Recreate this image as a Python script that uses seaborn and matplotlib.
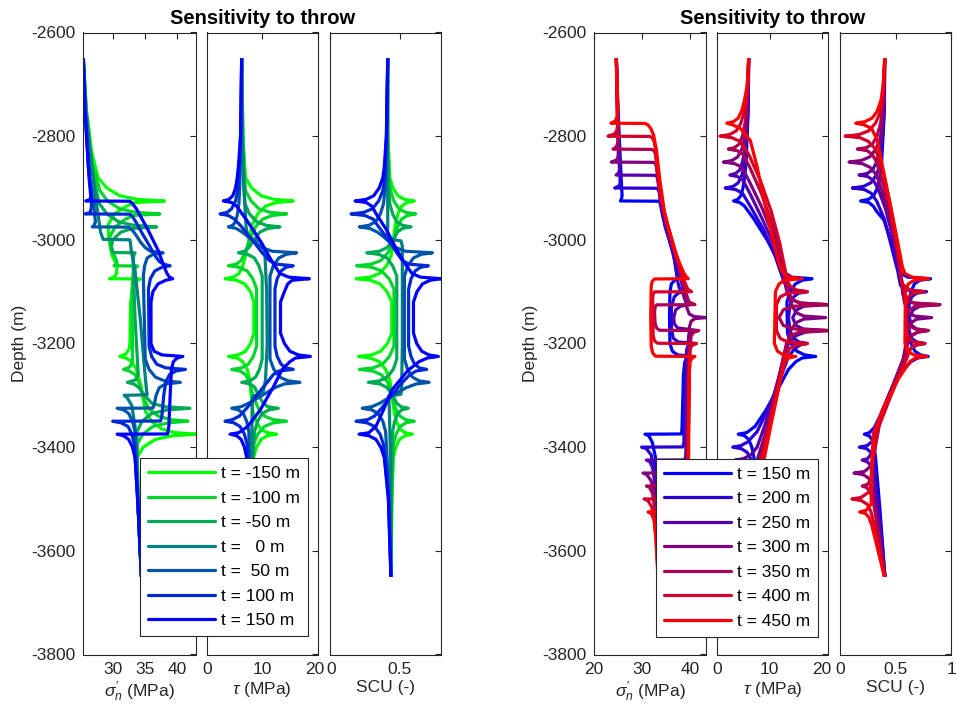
import numpy as np
import pandas as pd
import matplotlib
matplotlib.use("Agg")
import matplotlib.pyplot as plt
import matplotlib.transforms as mtransforms
import seaborn as sns
from matplotlib.lines import Line2D

# ---------------- data ----------------
THROWS_LEFT = [-150, -100, -50, 0, 50, 100, 150]
THROWS_RIGHT = [150, 200, 250, 300, 350, 400, 450]
LABELS_LEFT = ["t = -150 m", "t = -100 m", "t = -50 m", "t =   0 m",
               "t =  50 m", "t = 100 m", "t = 150 m"]
LABELS_RIGHT = ["t = 150 m", "t = 200 m", "t = 250 m", "t = 300 m",
                "t = 350 m", "t = 400 m", "t = 450 m"]
COLORS_LEFT = ["#00ff00", "#00d52a", "#00aa55", "#008080", "#0055aa", "#002ad5", "#0000ff"]
COLORS_RIGHT = ["#0000ff", "#2a00d5", "#5500aa", "#800080", "#aa0055", "#d5002a", "#ff0000"]

# (depth m, effective normal stress MPa) per throw, left figure
SN_LEFT = [
    [(-2650,25.3),(-2750,25.8),(-2830,26.6),(-2880,27.6),(-2900,29.0),(-2915,31.0),(-2922,33.8),(-2925,38.0),(-2928,33.4),(-2935,32.0),(-2950,30.2),(-2970,29.2),(-3000,29.3),(-3030,29.8),(-3050,30.6),(-3065,30.5),(-3072,30.1),(-3075,29.4),(-3075.5,34.2),(-3080,33.6),(-3090,33.1),(-3120,32.7),(-3200,32.6),(-3210,32.5),(-3220,32.0),(-3225,31.0),(-3228,32.0),(-3235,32.9),(-3250,33.6),(-3280,34.3),(-3330,35.0),(-3350,36.0),(-3365,37.6),(-3372,39.7),(-3375,42.9),(-3378,39.3),(-3385,36.6),(-3400,34.7),(-3420,33.7),(-3520,33.9),(-3650,34.4)],
    [(-2650,25.3),(-2750,25.75),(-2850,26.6),(-2905,27.9),(-2925,29.1),(-2940,31.0),(-2947,33.5),(-2950,37.3),(-2953,33.2),(-2960,31.9),(-2975,30.3),(-2995,29.4),(-3020,29.8),(-3040,30.5),(-3047,30.6),(-3050,30.1),(-3050.5,33.8),(-3055,33.4),(-3065,33.1),(-3100,32.9),(-3200,33.0),(-3235,33.0),(-3245,32.6),(-3250,31.6),(-3253,32.5),(-3260,33.4),(-3275,34.0),(-3305,34.7),(-3325,35.5),(-3340,37.0),(-3347,39.0),(-3350,41.7),(-3353,38.6),(-3360,36.2),(-3375,34.6),(-3395,33.7),(-3520,33.9),(-3650,34.4)],
    [(-2650,25.3),(-2750,25.7),(-2870,26.7),(-2930,27.8),(-2950,29.0),(-2965,30.8),(-2972,33.2),(-2975,36.8),(-2978,33.0),(-2985,31.2),(-3000,29.9),(-3015,29.7),(-3022,29.9),(-3024.5,29.9),(-3025,33.4),(-3030,33.2),(-3045,33.1),(-3150,33.4),(-3260,33.9),(-3270,33.5),(-3275,32.2),(-3278,33.2),(-3285,34.0),(-3300,34.9),(-3315,36.0),(-3322,38.0),(-3325,42.0),(-3328,38.5),(-3335,36.0),(-3350,34.5),(-3370,33.7),(-3520,33.9),(-3650,34.4)],
    [(-2650,25.3),(-2750,25.7),(-2900,27.0),(-2985,28.0),(-2999,28.4),(-3000,32.6),(-3008,32.7),(-3020,32.8),(-3060,33.4),(-3150,34.2),(-3250,34.9),(-3290,35.2),(-3299,35.3),(-3300,31.7),(-3305,32.2),(-3320,32.9),(-3360,33.4),(-3520,33.9),(-3650,34.4)],
    [(-2650,25.3),(-2750,25.6),(-2880,26.3),(-2930,26.9),(-2965,27.2),(-2972,27.0),(-2975,26.7),(-2975.5,32.4),(-2980,32.9),(-2990,33.5),(-3005,34.3),(-3015,35.0),(-3022,35.8),(-3025,37.8),(-3028,36.2),(-3035,35.3),(-3050,34.9),(-3070,34.7),(-3230,35.0),(-3250,35.6),(-3265,36.6),(-3272,38.0),(-3275,40.5),(-3278,38.2),(-3285,37.2),(-3300,36.7),(-3318,36.4),(-3324.5,36.2),(-3325,30.6),(-3328,31.6),(-3335,32.4),(-3350,33.0),(-3370,33.4),(-3520,33.9),(-3650,34.4)],
    [(-2650,25.3),(-2750,25.6),(-2880,26.2),(-2935,26.6),(-2947,26.4),(-2950,25.6),(-2950.5,32.6),(-2955,33.0),(-2965,33.5),(-2985,34.4),(-3010,35.6),(-3030,36.5),(-3042,37.2),(-3047,37.9),(-3050,38.9),(-3053,37.6),(-3060,36.5),(-3075,35.8),(-3095,35.5),(-3205,35.6),(-3225,36.0),(-3240,36.8),(-3247,38.2),(-3250,41.3),(-3253,39.8),(-3260,38.8),(-3275,38.2),(-3300,37.9),(-3340,37.6),(-3349.5,37.4),(-3350,29.9),(-3353,31.2),(-3360,32.3),(-3375,32.9),(-3395,33.3),(-3520,33.9),(-3650,34.4)],
    [(-2650,25.3),(-2750,25.55),(-2860,26.1),(-2910,26.5),(-2922,26.4),(-2925,25.7),(-2925.5,32.6),(-2930,33.0),(-2940,33.6),(-2960,34.5),(-2980,35.4),(-3020,37.0),(-3050,37.9),(-3065,38.4),(-3072,38.8),(-3075,39.3),(-3078,38.2),(-3085,37.0),(-3100,36.2),(-3120,35.9),(-3200,35.9),(-3215,36.4),(-3222,37.6),(-3225,40.9),(-3228,40.0),(-3235,39.4),(-3250,39.1),(-3300,38.9),(-3360,38.7),(-3374.5,38.5),(-3375,30.6),(-3378,31.6),(-3385,32.4),(-3400,33.0),(-3420,33.4),(-3520,33.9),(-3650,34.4)],
]

# (depth m, shear stress MPa) per throw, left figure
TAU_LEFT = [
    [(-2650,6.3),(-2800,6.5),(-2880,7.0),(-2900,8.1),(-2915,9.8),(-2922,12.2),(-2925,15.6),(-2928,12.6),(-2935,10.6),(-2950,9.2),(-2970,8.2),(-3000,7.6),(-3030,7.0),(-3050,6.5),(-3065,5.8),(-3072,4.8),(-3075,3.3),(-3078,5.4),(-3085,6.85),(-3100,7.9),(-3120,8.5),(-3180,8.5),(-3200,7.9),(-3215,7.0),(-3222,5.7),(-3225,3.9),(-3228,5.5),(-3235,6.5),(-3250,7.3),(-3270,7.8),(-3300,8.0),(-3330,8.3),(-3350,8.9),(-3365,9.7),(-3372,10.9),(-3375,12.6),(-3378,10.9),(-3385,9.8),(-3400,9.0),(-3420,8.4),(-3520,8.0),(-3650,7.8)],
    [(-2650,6.3),(-2800,6.55),(-2880,6.8),(-2905,7.0),(-2925,8.0),(-2940,9.4),(-2947,11.4),(-2950,14.4),(-2953,11.8),(-2960,10.1),(-2975,8.8),(-2995,8.0),(-3005,7.6),(-3025,6.9),(-3040,6.2),(-3047,5.3),(-3050,3.9),(-3053,5.9),(-3060,7.3),(-3075,8.3),(-3095,9.0),(-3205,9.0),(-3225,8.4),(-3240,7.5),(-3247,6.3),(-3250,4.5),(-3253,6.0),(-3260,7.0),(-3275,7.7),(-3295,8.2),(-3305,8.5),(-3325,9.3),(-3340,10.4),(-3347,12.0),(-3350,14.4),(-3353,12.0),(-3360,10.4),(-3375,9.2),(-3395,8.4),(-3520,8.0),(-3650,7.8)],
    [(-2650,6.3),(-2800,6.45),(-2900,6.7),(-2930,6.9),(-2950,7.7),(-2965,9.0),(-2972,10.7),(-2975,13.2),(-2978,11.0),(-2985,9.6),(-3000,8.5),(-3015,7.6),(-3022,6.8),(-3025,5.7),(-3028,7.4),(-3035,8.6),(-3050,9.4),(-3070,10.0),(-3230,10.0),(-3250,9.5),(-3265,8.8),(-3272,7.8),(-3275,6.3),(-3278,7.9),(-3285,8.7),(-3300,9.3),(-3315,10.2),(-3322,11.0),(-3325,12.9),(-3328,11.2),(-3335,10.0),(-3350,9.2),(-3370,8.6),(-3520,8.0),(-3650,7.8)],
    [(-2650,6.3),(-2800,6.4),(-2920,6.8),(-2975,7.1),(-2993,7.4),(-2999,7.8),(-3000,8.6),(-3002,9.6),(-3010,10.1),(-3030,10.5),(-3100,10.8),(-3200,10.9),(-3270,10.6),(-3292,10.2),(-3299,9.6),(-3300,8.8),(-3302,8.3),(-3315,8.2),(-3420,8.1),(-3520,7.9),(-3650,7.8)],
    [(-2650,6.3),(-2800,6.2),(-2900,5.95),(-2930,5.8),(-2950,5.55),(-2965,5.2),(-2972,4.7),(-2975,3.9),(-2978,5.3),(-2985,6.4),(-2995,7.6),(-3005,8.8),(-3015,10.0),(-3022,11.8),(-3025,16.2),(-3028,14.3),(-3035,13.0),(-3050,12.0),(-3070,11.4),(-3230,11.4),(-3250,12.1),(-3265,13.2),(-3272,14.6),(-3275,16.8),(-3278,14.0),(-3285,12.3),(-3295,10.8),(-3305,9.2),(-3315,7.6),(-3322,6.2),(-3325,4.5),(-3328,5.7),(-3335,6.6),(-3350,7.2),(-3370,7.6),(-3520,7.8),(-3650,7.8)],
    [(-2650,6.3),(-2800,6.1),(-2880,5.8),(-2905,5.6),(-2925,5.2),(-2940,4.5),(-2947,3.7),(-2950,2.4),(-2953,3.9),(-2960,5.0),(-2975,6.3),(-3000,8.2),(-3025,10.0),(-3040,11.3),(-3047,12.6),(-3050,15.6),(-3053,14.3),(-3060,13.4),(-3075,12.7),(-3095,12.3),(-3205,12.3),(-3225,12.7),(-3240,13.4),(-3247,14.3),(-3250,15.6),(-3253,13.0),(-3260,12.0),(-3275,10.9),(-3300,9.0),(-3325,7.2),(-3340,5.9),(-3347,4.6),(-3350,3.3),(-3353,4.9),(-3360,6.0),(-3375,6.8),(-3395,7.3),(-3520,7.7),(-3650,7.8)],
    [(-2650,6.3),(-2800,6.1),(-2860,5.7),(-2880,5.5),(-2900,5.2),(-2915,4.7),(-2922,4.0),(-2925,3.0),(-2928,4.5),(-2935,5.4),(-2962,7.2),(-3001,9.6),(-3046,12.0),(-3065,13.2),(-3072,14.8),(-3075,18.5),(-3078,15.4),(-3085,14.6),(-3100,14.0),(-3120,13.3),(-3180,13.3),(-3200,14.0),(-3215,15.0),(-3222,16.5),(-3225,18.7),(-3228,16.0),(-3235,15.0),(-3250,13.6),(-3284,12.0),(-3329,9.6),(-3360,7.4),(-3372,5.8),(-3375,4.2),(-3378,5.4),(-3385,6.2),(-3400,6.8),(-3420,7.2),(-3520,7.7),(-3650,7.8)],
]

# (depth m, shear capacity utilisation) per throw, left figure
SCU_LEFT = [
    [(-2650,0.415),(-2800,0.416),(-2880,0.43),(-2900,0.453),(-2915,0.488),(-2922,0.536),(-2925,0.606),(-2928,0.552),(-2935,0.515),(-2950,0.488),(-2970,0.47),(-3000,0.455),(-3030,0.44),(-3050,0.407),(-3065,0.356),(-3072,0.288),(-3075,0.187),(-3078,0.29),(-3085,0.36),(-3100,0.41),(-3120,0.444),(-3180,0.444),(-3200,0.413),(-3215,0.364),(-3222,0.30),(-3225,0.204),(-3228,0.29),(-3235,0.355),(-3250,0.40),(-3270,0.43),(-3300,0.445),(-3330,0.46),(-3350,0.477),(-3365,0.504),(-3372,0.539),(-3375,0.592),(-3378,0.538),(-3385,0.50),(-3400,0.473),(-3420,0.455),(-3500,0.445),(-3650,0.438)],
    [(-2650,0.415),(-2800,0.416),(-2880,0.425),(-2905,0.435),(-2925,0.459),(-2940,0.495),(-2947,0.544),(-2950,0.616),(-2953,0.556),(-2960,0.515),(-2975,0.485),(-2995,0.465),(-3005,0.455),(-3025,0.416),(-3040,0.365),(-3047,0.295),(-3050,0.191),(-3053,0.30),(-3060,0.37),(-3075,0.425),(-3095,0.46),(-3205,0.46),(-3225,0.427),(-3240,0.378),(-3247,0.31),(-3250,0.211),(-3253,0.305),(-3260,0.368),(-3275,0.415),(-3295,0.445),(-3305,0.45),(-3325,0.47),(-3340,0.503),(-3347,0.544),(-3350,0.606),(-3353,0.546),(-3360,0.505),(-3375,0.475),(-3395,0.455),(-3500,0.444),(-3650,0.438)],
    [(-2650,0.415),(-2800,0.413),(-2900,0.42),(-2930,0.43),(-2950,0.45),(-2965,0.48),(-2972,0.521),(-2975,0.582),(-2978,0.52),(-2985,0.485),(-3000,0.455),(-3015,0.41),(-3022,0.355),(-3025,0.264),(-3028,0.35),(-3035,0.41),(-3050,0.45),(-3070,0.48),(-3230,0.48),(-3250,0.455),(-3265,0.41),(-3272,0.355),(-3275,0.276),(-3278,0.36),(-3285,0.41),(-3300,0.45),(-3315,0.48),(-3322,0.51),(-3325,0.563),(-3328,0.515),(-3335,0.487),(-3350,0.465),(-3370,0.45),(-3500,0.44),(-3650,0.438)],
    [(-2650,0.415),(-2800,0.412),(-2920,0.415),(-2975,0.415),(-2993,0.41),(-2999,0.405),(-3000,0.46),(-3002,0.51),(-3012,0.52),(-3100,0.52),(-3200,0.52),(-3285,0.515),(-3298,0.51),(-3300,0.46),(-3302,0.42),(-3315,0.425),(-3420,0.435),(-3650,0.438)],
    [(-2650,0.415),(-2800,0.408),(-2900,0.395),(-2930,0.385),(-2950,0.362),(-2965,0.328),(-2972,0.28),(-2975,0.211),(-2978,0.285),(-2985,0.34),(-2995,0.39),(-3005,0.43),(-3015,0.475),(-3022,0.54),(-3025,0.736),(-3028,0.655),(-3035,0.60),(-3050,0.56),(-3070,0.535),(-3230,0.535),(-3250,0.558),(-3265,0.593),(-3272,0.64),(-3275,0.712),(-3278,0.62),(-3285,0.55),(-3295,0.48),(-3305,0.42),(-3315,0.36),(-3322,0.30),(-3325,0.232),(-3328,0.30),(-3335,0.345),(-3350,0.38),(-3370,0.40),(-3500,0.425),(-3650,0.438)],
    [(-2650,0.415),(-2800,0.406),(-2880,0.395),(-2905,0.38),(-2925,0.35),(-2940,0.305),(-2947,0.243),(-2950,0.151),(-2953,0.25),(-2960,0.31),(-2975,0.35),(-3000,0.42),(-3025,0.48),(-3040,0.52),(-3047,0.57),(-3050,0.707),(-3053,0.65),(-3060,0.612),(-3075,0.583),(-3095,0.565),(-3205,0.565),(-3225,0.582),(-3240,0.608),(-3247,0.643),(-3250,0.695),(-3253,0.62),(-3260,0.575),(-3275,0.52),(-3300,0.445),(-3325,0.37),(-3340,0.32),(-3347,0.27),(-3350,0.187),(-3353,0.266),(-3360,0.32),(-3375,0.36),(-3395,0.385),(-3500,0.42),(-3650,0.438)],
    [(-2650,0.415),(-2800,0.405),(-2860,0.39),(-2880,0.38),(-2900,0.354),(-2915,0.314),(-2922,0.26),(-2925,0.18),(-2928,0.26),(-2935,0.30),(-2949,0.33),(-2981,0.407),(-3013,0.467),(-3046,0.539),(-3065,0.59),(-3072,0.65),(-3075,0.798),(-3078,0.72),(-3085,0.665),(-3100,0.625),(-3120,0.60),(-3180,0.60),(-3200,0.623),(-3215,0.66),(-3222,0.71),(-3225,0.779),(-3228,0.70),(-3235,0.64),(-3252,0.56),(-3290,0.444),(-3329,0.383),(-3360,0.33),(-3372,0.28),(-3375,0.209),(-3378,0.28),(-3385,0.33),(-3400,0.365),(-3420,0.39),(-3500,0.42),(-3650,0.438)],
]

# right figure
SN_RIGHT = [
    [(-2650,24.65),(-2750,25.0),(-2900,25.75),(-2915,25.85),(-2921,25.7),(-2925,25.5),(-2925.5,33.4),(-2928,33.7),(-2935,33.9),(-2950,34.2),(-2975,34.8),(-3026,36.5),(-3058,37.1),(-3070,37.4),(-3075,37.8),(-3078,36.8),(-3085,36.1),(-3100,35.8),(-3150,35.7),(-3200,35.8),(-3215,36.3),(-3222,37.4),(-3225,40.5),(-3228,39.5),(-3235,38.9),(-3260,38.6),(-3300,38.5),(-3365,38.3),(-3374.5,38.2),(-3375,30.6),(-3378,31.4),(-3390,32.1),(-3420,32.8),(-3650,33.5)],
    [(-2650,24.65),(-2750,24.95),(-2880,25.4),(-2890,25.45),(-2896,25.2),(-2900,24.3),(-2900.5,33.0),(-2903,33.4),(-2910,33.6),(-2925,33.8),(-2950,34.3),(-3000,35.7),(-3040,36.8),(-3080,37.4),(-3095,37.8),(-3100,38.8),(-3103,37.5),(-3110,36.7),(-3130,36.1),(-3170,36.1),(-3190,36.5),(-3197,37.5),(-3200,41.3),(-3203,40.0),(-3210,39.3),(-3240,39.0),(-3300,38.9),(-3390,38.7),(-3399.5,38.5),(-3400,29.9),(-3403,30.9),(-3415,31.9),(-3450,32.7),(-3650,33.5)],
    [(-2650,24.65),(-2750,24.9),(-2855,25.25),(-2865,25.3),(-2871,25.1),(-2875,24.6),(-2875.5,32.7),(-2878,33.1),(-2885,33.3),(-2900,33.5),(-2930,33.9),(-2980,35.1),(-3030,36.8),(-3080,38.2),(-3110,38.7),(-3120,39.1),(-3125,40.0),(-3128,38.0),(-3135,37.0),(-3150,36.6),(-3162,36.7),(-3170,37.4),(-3175,41.5),(-3178,40.3),(-3185,39.7),(-3220,39.4),(-3300,39.3),(-3415,39.1),(-3424.5,38.9),(-3425,30.9),(-3428,31.6),(-3440,32.2),(-3480,32.8),(-3650,33.5)],
    [(-2650,24.65),(-2750,24.85),(-2830,25.05),(-2840,25.0),(-2846,24.7),(-2850,23.6),(-2850.5,32.3),(-2853,32.8),(-2860,33.0),(-2875,33.2),(-2900,33.5),(-2950,34.5),(-3000,36.0),(-3050,37.5),(-3100,38.8),(-3130,39.3),(-3143,39.8),(-3148,40.8),(-3150,43.4),(-3152,41.0),(-3157,40.2),(-3170,39.8),(-3300,39.6),(-3440,39.4),(-3449.5,39.2),(-3450,30.2),(-3453,31.0),(-3465,31.9),(-3500,32.7),(-3650,33.5)],
    [(-2650,24.65),(-2750,24.85),(-2805,25.0),(-2815,24.9),(-2821,24.6),(-2825,23.95),(-2825.5,32.0),(-2828,32.5),(-2835,32.8),(-2850,33.0),(-2880,33.3),(-2940,34.4),(-3000,36.1),(-3060,38.0),(-3105,39.2),(-3120,39.8),(-3125,41.0),(-3125.5,33.0),(-3130,32.7),(-3140,32.6),(-3160,32.7),(-3170,33.0),(-3174.5,33.6),(-3175,41.8),(-3178,40.8),(-3185,40.2),(-3220,39.9),(-3400,39.6),(-3465,39.5),(-3474.5,39.3),(-3475,30.9),(-3478,31.6),(-3490,32.2),(-3530,32.8),(-3650,33.5)],
    [(-2650,24.65),(-2720,24.8),(-2780,24.9),(-2790,24.7),(-2796,24.2),(-2800,22.9),(-2800.5,31.6),(-2803,32.1),(-2810,32.5),(-2825,32.8),(-2860,33.1),(-2920,33.9),(-2980,35.6),(-3040,37.5),(-3080,38.8),(-3095,39.5),(-3100,40.3),(-3100.5,32.6),(-3105,32.3),(-3115,32.2),(-3185,32.3),(-3195,32.6),(-3199.5,33.2),(-3200,41.3),(-3203,40.5),(-3210,40.0),(-3240,39.8),(-3400,39.6),(-3490,39.5),(-3499.5,39.3),(-3500,30.4),(-3503,31.2),(-3515,32.0),(-3550,32.7),(-3650,33.4)],
    [(-2650,24.65),(-2700,24.8),(-2745,24.95),(-2762,24.85),(-2771,24.4),(-2775,23.5),(-2775.5,30.6),(-2778,31.2),(-2785,31.8),(-2798,32.4),(-2827,33.0),(-2885,33.7),(-2949,34.7),(-3013,36.5),(-3045,37.8),(-3062,38.6),(-3070,39.1),(-3075,39.6),(-3075.5,32.6),(-3080,32.1),(-3090,31.9),(-3150,31.8),(-3205,31.9),(-3218,32.2),(-3224.5,32.8),(-3225,41.0),(-3228,40.4),(-3235,40.0),(-3260,39.8),(-3400,39.7),(-3515,39.6),(-3524.5,39.4),(-3525,31.25),(-3528,31.9),(-3540,32.5),(-3580,32.9),(-3650,33.3)],
]

TAU_RIGHT = [
    [(-2650,6.0),(-2750,5.9),(-2850,5.5),(-2880,5.2),(-2900,4.9),(-2915,4.5),(-2922,3.9),(-2925,3.1),(-2928,4.3),(-2935,5.2),(-2960,7.0),(-3000,9.5),(-3040,11.6),(-3062,12.6),(-3072,14.2),(-3075,18.1),(-3078,16.2),(-3085,14.9),(-3100,13.9),(-3120,13.3),(-3180,13.4),(-3200,14.1),(-3215,15.2),(-3222,16.7),(-3225,18.8),(-3228,16.2),(-3235,15.0),(-3250,13.6),(-3280,12.0),(-3330,9.2),(-3360,7.2),(-3372,5.6),(-3375,4.0),(-3378,5.2),(-3385,6.0),(-3400,6.6),(-3420,7.0),(-3520,7.4),(-3650,7.6)],
    [(-2650,6.0),(-2750,5.85),(-2830,5.5),(-2855,5.2),(-2875,4.7),(-2890,4.0),(-2897,3.0),(-2900,1.5),(-2903,3.5),(-2910,4.8),(-2935,6.3),(-2980,8.8),(-3030,11.0),(-3080,12.7),(-3090,13.3),(-3097,14.6),(-3100,17.2),(-3103,15.5),(-3110,14.6),(-3125,13.9),(-3150,13.6),(-3175,13.9),(-3190,14.6),(-3197,15.6),(-3200,17.2),(-3203,15.8),(-3210,14.8),(-3225,13.6),(-3260,12.3),(-3320,10.0),(-3370,7.6),(-3390,5.8),(-3397,4.5),(-3400,2.95),(-3403,4.6),(-3410,5.7),(-3425,6.5),(-3450,7.0),(-3550,7.4),(-3650,7.6)],
    [(-2650,6.0),(-2750,5.8),(-2810,5.5),(-2830,5.2),(-2850,4.8),(-2865,4.3),(-2872,3.5),(-2875,2.4),(-2878,3.9),(-2885,4.9),(-2910,6.2),(-2960,8.6),(-3010,10.8),(-3060,12.4),(-3100,13.3),(-3115,14.0),(-3122,15.8),(-3125,21.2),(-3128,16.5),(-3135,15.2),(-3150,14.4),(-3165,15.0),(-3172,16.4),(-3175,21.2),(-3178,16.8),(-3185,15.0),(-3200,13.6),(-3240,12.4),(-3300,10.8),(-3360,9.0),(-3400,7.6),(-3415,6.4),(-3422,5.0),(-3425,3.4),(-3428,5.0),(-3435,5.9),(-3450,6.6),(-3480,7.0),(-3560,7.4),(-3650,7.6)],
    [(-2650,6.0),(-2750,5.7),(-2795,5.4),(-2805,5.2),(-2825,4.7),(-2840,3.9),(-2847,2.8),(-2850,1.16),(-2853,3.3),(-2860,4.7),(-2885,6.0),(-2935,8.4),(-2990,10.6),(-3050,12.3),(-3105,13.5),(-3125,14.2),(-3140,15.0),(-3147,16.5),(-3150,20.7),(-3153,16.5),(-3160,15.0),(-3175,14.0),(-3200,13.4),(-3220,12.8),(-3300,11.0),(-3380,9.0),(-3425,7.6),(-3440,6.2),(-3447,4.6),(-3450,2.2),(-3453,4.4),(-3460,5.6),(-3475,6.5),(-3500,7.0),(-3580,7.4),(-3650,7.6)],
    [(-2650,6.0),(-2720,5.7),(-2770,5.4),(-2780,5.2),(-2800,4.8),(-2815,4.2),(-2822,3.3),(-2825,2.1),(-2828,3.8),(-2835,4.9),(-2860,6.2),(-2910,8.4),(-2970,10.5),(-3030,12.1),(-3080,13.1),(-3100,13.5),(-3115,14.3),(-3122,15.9),(-3125,21.2),(-3128,14.6),(-3135,12.6),(-3150,11.8),(-3165,12.6),(-3172,14.8),(-3175,21.2),(-3178,15.6),(-3185,14.0),(-3200,13.2),(-3280,11.5),(-3370,9.5),(-3450,7.6),(-3465,6.3),(-3472,4.8),(-3475,3.0),(-3478,4.6),(-3485,5.7),(-3500,6.4),(-3530,7.0),(-3600,7.4),(-3650,7.5)],
    [(-2650,6.0),(-2720,5.6),(-2745,5.3),(-2755,5.1),(-2775,4.5),(-2790,3.6),(-2797,2.3),(-2800,0.52),(-2803,2.8),(-2810,4.3),(-2835,6.0),(-2885,8.2),(-2945,10.3),(-3005,11.9),(-3060,13.0),(-3080,13.4),(-3090,14.0),(-3097,15.2),(-3100,17.2),(-3103,13.4),(-3110,12.0),(-3125,11.3),(-3175,11.3),(-3190,12.0),(-3197,13.4),(-3200,17.2),(-3203,15.0),(-3210,13.8),(-3225,13.0),(-3240,12.7),(-3330,10.6),(-3420,8.6),(-3475,7.2),(-3490,6.0),(-3497,4.2),(-3500,2.0),(-3503,4.0),(-3510,5.3),(-3525,6.2),(-3550,6.8),(-3650,7.4)],
    [(-2650,6.0),(-2700,5.75),(-2730,5.2),(-2750,4.7),(-2765,4.0),(-2772,3.1),(-2775,1.8),(-2778,2.9),(-2785,4.4),(-2808,6.3),(-2859,7.6),(-2923,8.9),(-2994,10.5),(-3040,11.6),(-3060,12.3),(-3068,13.0),(-3072,14.0),(-3075,16.2),(-3078,12.8),(-3085,11.8),(-3100,11.1),(-3200,10.9),(-3215,11.5),(-3222,12.6),(-3225,15.0),(-3228,13.6),(-3235,12.9),(-3260,12.3),(-3350,10.4),(-3450,8.4),(-3500,7.4),(-3515,6.2),(-3522,4.6),(-3525,3.0),(-3528,4.5),(-3535,5.5),(-3550,6.2),(-3580,6.8),(-3650,7.3)],
]

SCU_RIGHT = [
    [(-2650,0.403),(-2750,0.40),(-2850,0.375),(-2880,0.36),(-2900,0.337),(-2915,0.303),(-2922,0.255),(-2925,0.186),(-2928,0.26),(-2935,0.30),(-2945,0.33),(-2962,0.396),(-3001,0.457),(-3052,0.517),(-3065,0.55),(-3072,0.61),(-3075,0.817),(-3078,0.72),(-3085,0.67),(-3100,0.64),(-3120,0.62),(-3180,0.62),(-3200,0.64),(-3215,0.676),(-3222,0.725),(-3225,0.795),(-3228,0.70),(-3235,0.64),(-3260,0.53),(-3300,0.44),(-3340,0.36),(-3362,0.31),(-3372,0.265),(-3375,0.219),(-3378,0.26),(-3385,0.29),(-3400,0.31),(-3420,0.32),(-3520,0.36),(-3650,0.405)],
    [(-2650,0.403),(-2750,0.398),(-2830,0.375),(-2855,0.36),(-2875,0.328),(-2890,0.278),(-2897,0.21),(-2900,0.111),(-2903,0.22),(-2910,0.28),(-2925,0.33),(-2960,0.40),(-3010,0.46),(-3060,0.52),(-3088,0.545),(-3097,0.61),(-3100,0.78),(-3103,0.69),(-3110,0.645),(-3130,0.615),(-3170,0.615),(-3190,0.645),(-3197,0.69),(-3200,0.766),(-3203,0.69),(-3210,0.635),(-3250,0.54),(-3300,0.44),(-3350,0.36),(-3385,0.31),(-3397,0.245),(-3400,0.174),(-3403,0.24),(-3410,0.28),(-3425,0.305),(-3450,0.32),(-3540,0.36),(-3650,0.405)],
    [(-2650,0.403),(-2750,0.395),(-2810,0.37),(-2830,0.355),(-2850,0.33),(-2865,0.294),(-2872,0.245),(-2875,0.171),(-2878,0.25),(-2885,0.30),(-2900,0.34),(-2940,0.41),(-2990,0.47),(-3040,0.52),(-3090,0.56),(-3115,0.58),(-3122,0.66),(-3125,0.90),(-3128,0.72),(-3135,0.66),(-3150,0.625),(-3165,0.645),(-3172,0.69),(-3175,0.795),(-3178,0.70),(-3185,0.645),(-3200,0.61),(-3230,0.57),(-3280,0.48),(-3330,0.38),(-3380,0.31),(-3410,0.29),(-3422,0.25),(-3425,0.20),(-3428,0.245),(-3435,0.275),(-3450,0.30),(-3480,0.32),(-3560,0.36),(-3650,0.405)],
    [(-2650,0.403),(-2750,0.39),(-2795,0.37),(-2805,0.36),(-2825,0.324),(-2840,0.268),(-2847,0.19),(-2850,0.081),(-2853,0.20),(-2860,0.27),(-2875,0.33),(-2920,0.40),(-2970,0.46),(-3020,0.51),(-3070,0.55),(-3120,0.58),(-3140,0.61),(-3147,0.67),(-3150,0.826),(-3153,0.69),(-3160,0.64),(-3180,0.61),(-3230,0.57),(-3290,0.46),(-3350,0.35),(-3400,0.30),(-3435,0.285),(-3447,0.22),(-3450,0.126),(-3453,0.21),(-3460,0.26),(-3475,0.29),(-3500,0.31),(-3580,0.36),(-3650,0.405)],
    [(-2650,0.403),(-2720,0.39),(-2770,0.37),(-2780,0.36),(-2800,0.333),(-2815,0.293),(-2822,0.24),(-2825,0.156),(-2828,0.245),(-2835,0.29),(-2850,0.33),(-2900,0.40),(-2950,0.455),(-3000,0.50),(-3060,0.545),(-3105,0.565),(-3115,0.59),(-3122,0.67),(-3125,0.90),(-3128,0.68),(-3135,0.62),(-3150,0.59),(-3165,0.615),(-3172,0.68),(-3175,0.795),(-3178,0.70),(-3185,0.64),(-3200,0.61),(-3230,0.58),(-3290,0.47),(-3350,0.36),(-3420,0.30),(-3462,0.285),(-3472,0.245),(-3475,0.20),(-3478,0.24),(-3485,0.27),(-3500,0.295),(-3530,0.32),(-3600,0.37),(-3650,0.405)],
    [(-2650,0.403),(-2720,0.385),(-2745,0.37),(-2755,0.36),(-2775,0.32),(-2790,0.256),(-2797,0.17),(-2800,0.045),(-2803,0.18),(-2810,0.255),(-2825,0.32),(-2870,0.39),(-2930,0.45),(-2990,0.50),(-3050,0.54),(-3085,0.56),(-3097,0.63),(-3100,0.76),(-3103,0.66),(-3110,0.615),(-3130,0.59),(-3170,0.59),(-3190,0.615),(-3197,0.66),(-3200,0.766),(-3203,0.68),(-3210,0.635),(-3240,0.58),(-3300,0.46),(-3360,0.35),(-3430,0.29),(-3485,0.27),(-3497,0.19),(-3500,0.108),(-3503,0.19),(-3510,0.245),(-3525,0.28),(-3550,0.31),(-3650,0.40)],
    [(-2650,0.403),(-2700,0.39),(-2730,0.37),(-2752,0.335),(-2765,0.29),(-2772,0.225),(-2775,0.141),(-2778,0.215),(-2785,0.285),(-2808,0.336),(-2872,0.396),(-2936,0.457),(-3001,0.517),(-3052,0.562),(-3065,0.585),(-3072,0.65),(-3075,0.80),(-3078,0.67),(-3085,0.615),(-3100,0.59),(-3200,0.585),(-3215,0.61),(-3222,0.665),(-3225,0.78),(-3228,0.68),(-3235,0.63),(-3270,0.52),(-3320,0.40),(-3374,0.30),(-3450,0.285),(-3510,0.28),(-3522,0.235),(-3525,0.177),(-3528,0.23),(-3535,0.26),(-3550,0.285),(-3580,0.32),(-3650,0.40)],
]

YTICKS = [-3800, -3600, -3400, -3200, -3000, -2800, -2600]
XLIM_LEFT = [(25.3, 42.9), (0, 20), (0, 0.8)]
XLIM_RIGHT = [(20, 43.3), (0, 21.2), (0, 1.0)]
XTICKS_LEFT = [[30, 35, 40], [0, 10, 20], [0, 0.5]]
XTICKS_RIGHT = [[20, 30, 40], [0, 10, 20], [0, 0.5, 1]]
XLABELS = [r"$\sigma_n'$ (MPa)", r"$\tau$ (MPa)", "SCU (-)"]
TITLE = "Sensitivity to throw"
YLABEL = "Depth (m)"

# ---------------- styling ----------------
sns.set_theme(style="white")
plt.rcParams["font.family"] = ["Liberation Sans", "DejaVu Sans"]
plt.rcParams["mathtext.fontset"] = "custom"
plt.rcParams["mathtext.rm"] = "Liberation Sans"
plt.rcParams["mathtext.it"] = "Liberation Sans:italic"
plt.rcParams["axes.unicode_minus"] = False
FS = 12.5
AXC = "#262626"

W, H = 957, 715
fig = plt.figure(figsize=(W / 100, H / 100), dpi=100)


def frac(x0, x1):
    return [x0 / W, (H - 654.5) / H, (x1 - x0) / W, 622 / H]


LEFT_POS = [(83.3, 195.7), (206.7, 317.7), (330, 441.3)]
RIGHT_POS = [(594, 706), (717.3, 828.3), (840, 951)]


def to_frame(curves, labels):
    rows = []
    for lab, pts in zip(labels, curves):
        for i, (d, v) in enumerate(pts):
            rows.append({"depth": d, "value": v, "throw": lab, "i": i})
    return pd.DataFrame(rows)


def shift_label(ax, idx, dx_px):
    lab = ax.get_xticklabels()[idx]
    off = mtransforms.ScaledTranslation(dx_px / 100.0, 0, fig.dpi_scale_trans)
    lab.set_transform(lab.get_transform() + off)


def draw_group(pos, datasets, labels, colors, xlims, xticks):
    axes = []
    pal = dict(zip(labels, colors))
    for k, ((x0, x1), curves, xl, xt) in enumerate(zip(pos, datasets, xlims, xticks)):
        ax = fig.add_axes(frac(x0, x1))
        df = to_frame(curves, labels)
        sns.lineplot(data=df, x="value", y="depth", hue="throw", hue_order=labels,
                     palette=pal, sort=False, estimator=None, units="throw",
                     linewidth=2.3, legend=False, ax=ax)
        ax.set_xlim(*xl)
        ax.set_ylim(-3800, -2600)
        ax.set_xticks(xt)
        ax.set_xticklabels([("%g" % v) for v in xt])
        ax.set_yticks(YTICKS)
        ax.tick_params(direction="in", length=4.5, width=0.8, colors=AXC,
                       labelsize=FS, top=True, right=True, pad=5.5,
                       labelcolor=AXC)
        for s in ax.spines.values():
            s.set_color(AXC)
            s.set_linewidth(0.8)
        ax.set_xlabel(XLABELS[k], fontsize=FS, color=AXC, labelpad=2)
        if k == 0:
            ax.set_yticklabels([str(v) for v in YTICKS])
            ax.set_ylabel(YLABEL, fontsize=FS, color=AXC, labelpad=3)
        else:
            ax.set_yticklabels([])
            ax.set_ylabel("")
        ax.set_facecolor("white")
        for ln in ax.get_lines():
            ln.set_solid_joinstyle("round")
            ln.set_solid_capstyle("butt")
        axes.append(ax)
    axes[1].set_title(TITLE, fontsize=14.5, fontweight="bold", color="black", pad=6)
    return axes


axL = draw_group(LEFT_POS, [SN_LEFT, TAU_LEFT, SCU_LEFT], LABELS_LEFT, COLORS_LEFT,
                 XLIM_LEFT, XTICKS_LEFT)
axR = draw_group(RIGHT_POS, [SN_RIGHT, TAU_RIGHT, SCU_RIGHT], LABELS_RIGHT, COLORS_RIGHT,
                 XLIM_RIGHT, XTICKS_RIGHT)
# the "20" of the tau axis and the "0" of the SCU axis nearly touch in the reference
shift_label(axL[1], 2, -2.5)
shift_label(axL[2], 0, 1.5)


def add_legend(labels, colors, x_px, y_px):
    handles = [Line2D([0], [0], color=c, lw=2.3) for c in colors]
    leg = fig.legend(handles, labels, loc="upper left",
                     bbox_to_anchor=(x_px / W, 1 - y_px / H), borderaxespad=0,
                     fontsize=FS, frameon=True, fancybox=False, framealpha=1,
                     edgecolor=AXC, handlelength=3.85, handletextpad=0.35,
                     labelspacing=0.54, borderpad=0.45)
    leg.get_frame().set_linewidth(0.8)
    for t in leg.get_texts():
        t.set_color("black")
    return leg


add_legend(LABELS_LEFT, COLORS_LEFT, 140, 458.3)
add_legend(LABELS_RIGHT, COLORS_RIGHT, 656, 458.7)

fig.savefig("out.png", dpi=100, facecolor="white")
